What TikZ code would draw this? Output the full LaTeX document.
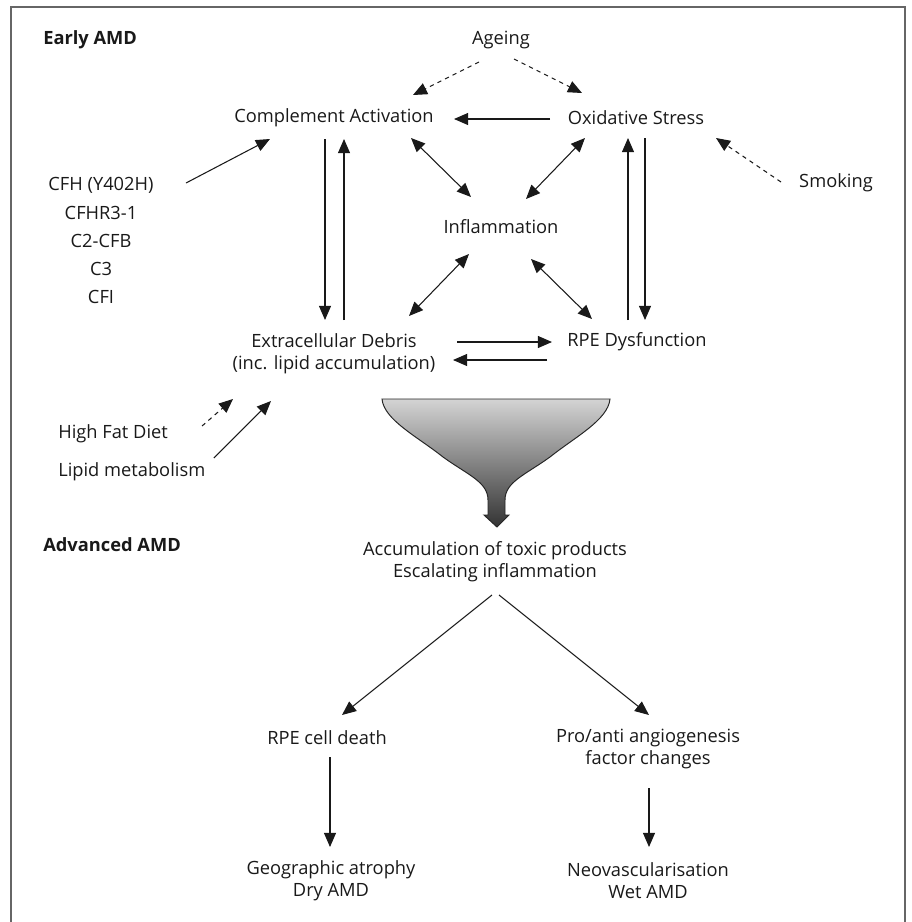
\documentclass[tikz,border=0pt]{standalone}
\usepackage{fontspec}
\setmainfont{Open Sans}
\usetikzlibrary{arrows.meta,calc}

\begin{document}
\begin{tikzpicture}[x=0.025cm, y=-0.025cm,
	txt/.style={text=black!90, align=center, inner sep=0pt, font=\fontsize{13}{15.8}\selectfont},
	head/.style={txt, anchor=west, font=\fontsize{13}{15.8}\selectfont\bfseries},
	arr/.style={-{Triangle[length=10pt,width=8.5pt]}, line width=0.75pt, black!90},
	darr/.style={arr, {Triangle[length=10pt,width=8.5pt]}-{Triangle[length=10pt,width=8.5pt]}},
	dasharr/.style={arr, dash pattern=on 3pt off 3pt}]
		
		\useasboundingbox (0,0) rectangle (912,922);
		
		% frame, open at the bottom
		\draw[black!60, line width=0.9pt] (11,922) -- (11,7) -- (905,7) -- (905,922);
		
		% Early AMD
		\node[head] (early) at (43,40) {Early AMD};
		\node[txt] (ageing) at (501,40) {Ageing};
		\node[txt] (comp) at (334,118) {Complement Activation};
		\node[txt] (oxid) at (636,118) {Oxidative Stress};
		\node[txt] (smoke) at (836,183) {Smoking};
		\node[txt] (infl) at (501,227) {Inflammation};
		\foreach \g [count=\i] in {CFH (Y402H), CFHR3-1, C2-CFB, C3, CFI}
			\node[txt] (g\i) at (101,157+28*\i) {\g};
		\node[txt] (debris) at (334,354) {Extracellular Debris\\(inc. lipid accumulation)};
		\node[txt] (rpe) at (637,342) {RPE Dysfunction};
		\node[txt, anchor=west] (hfd) at (58,434) {High Fat Diet};
		\node[txt, anchor=west] (lipid) at (58,472) {Lipid metabolism};
		
		\draw[dasharr] ($(ageing)+(-22,22)$) -- ($(comp)+(79,-23)$);
		\draw[dasharr] ($(ageing)+(13,19)$) -- ($(oxid)+(-54,-25)$);
		\draw[dasharr] ($(smoke)+(-55,-1)$) -- ($(oxid)+(80,20)$);
		\draw[arr] ($(oxid)+(-86,1)$) -- ($(comp)+(120,1)$);
		\draw[arr] ($(g1)+(85,-2)$) -- ($(comp)+(-64,21)$);
		\draw[darr] ($(comp)+(77,20)$) -- ($(infl)+(-30,-30)$);
		\draw[darr] ($(oxid)+(-51,20)$) -- ($(infl)+(25,-28)$);
		\draw[darr] ($(infl)+(-32,27)$) -- ($(debris)+(75,-38)$);
		\draw[darr] ($(infl)+(30,32)$) -- ($(rpe)+(-45,-23)$);
		\draw[arr] ($(comp)+(-9,21)$) -- ($(debris)+(-9,-34)$);
		\draw[arr] ($(debris)+(10,-34)$) -- ($(comp)+(10,21)$);
		\draw[arr] ($(rpe)+(-9,-22)$) -- ($(oxid)+(-8,20)$);
		\draw[arr] ($(oxid)+(9,20)$) -- ($(rpe)+(8,-22)$);
		\draw[arr] ($(debris)+(123,-12)$) -- ($(rpe)+(-85,0)$);
		\draw[arr] ($(rpe)+(-90,18)$) -- ($(debris)+(119,6)$);
		\draw[dasharr] ($(hfd)+(89,-8)$) -- ($(debris)+(-101,45)$);
		\draw[arr] ($(lipid)+(82,-14)$) -- ($(debris)+(-63,47)$);
		
		% funnel
		\shadedraw[top color=black!17, bottom color=black!80, draw=black!85, line width=0.7pt]
		(382,399) -- (610,399) .. controls (608,420) and (575,437) .. (550,457)
		.. controls (525,475) and (505,482) .. (505,500) -- (505,515) -- (509,515)
		-- (497,527) -- (484,515) -- (488,515) -- (488,500)
		.. controls (488,482) and (468,475) .. (443,457)
		.. controls (418,437) and (384,420) .. (382,399) -- cycle;
		
		% Advanced AMD
		\node[head] (adv) at (43,545) {Advanced AMD};
		\node[txt] (accum) at (495,562) {Accumulation of toxic products\\Escalating inflammation};
		\node[txt] (death) at (327,738) {RPE cell death};
		\node[txt] (angio) at (648,749) {Pro/anti angiogenesis\\factor changes};
		\node[txt] (geo) at (331,881) {Geographic atrophy\\Dry AMD};
		\node[txt] (neo) at (648,881) {Neovascularisation\\Wet AMD};
		
		\draw[arr] ($(accum)+(-3,33)$) -- ($(death)+(15,-23)$);
		\draw[arr] ($(accum)+(4,33)$) -- ($(angio)+(1,-34)$);
		\draw[arr] ($(death)+(3,19)$) -- ($(geo)+(-1,-34)$);
		\draw[arr] ($(angio)+(1,39)$) -- ($(neo)+(1,-34)$);
		
	\end{tikzpicture}
\end{document}
